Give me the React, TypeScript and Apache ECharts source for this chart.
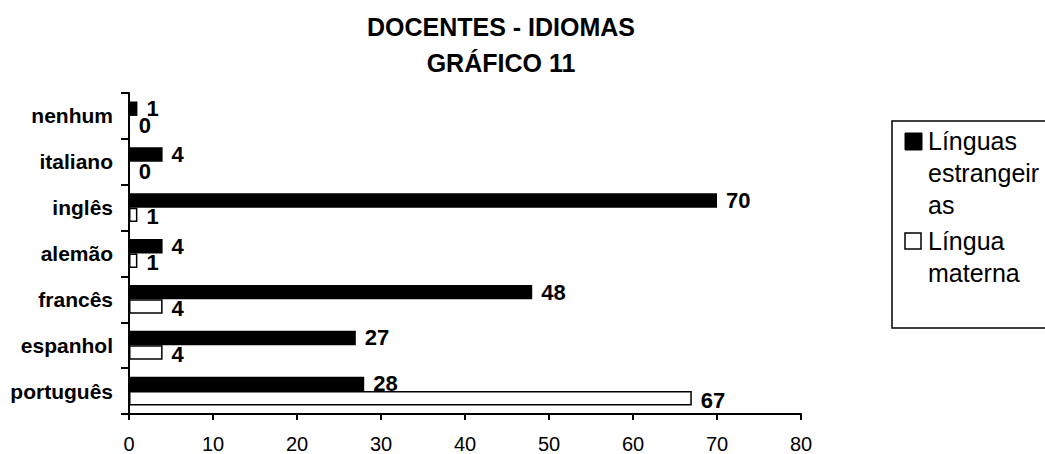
import React, { useEffect, useRef } from "react";
import * as echarts from "echarts";

const categories = ["português", "espanhol", "francês", "alemão", "inglês", "italiano", "nenhum"];
const seriesNames = ["Línguas estrangeiras", "Língua materna"];
const legendLines = [["Línguas", "estrangeir", "as"], ["Língua", "materna"]];
const estrangeiras = [28, 27, 48, 4, 70, 4, 1];
const materna = [67, 4, 4, 1, 1, 0, 0];
const titleLines = ["DOCENTES - IDIOMAS", "GRÁFICO 11"];

const FONT = "Arial, 'Liberation Sans', sans-serif";

export default function App() {
  const ref = useRef<HTMLDivElement>(null);
  useEffect(() => {
    if (!ref.current) return;
    const chart = echarts.init(ref.current, null, { renderer: "svg" });
    const labelStyle = {
      show: true,
      position: "right" as const,
      distance: 9,
      color: "#000",
      fontFamily: FONT,
      fontWeight: "bold" as const,
      fontSize: 22,
    };
    chart.setOption({
      animation: false,
      backgroundColor: "#fff",
      title: {
        text: titleLines.join("\n"),
        left: 501,
        top: 9,
        padding: 0,
        textAlign: "center",
        textStyle: { fontFamily: FONT, fontWeight: "bold", fontSize: 25, lineHeight: 36, color: "#000" },
      },
      grid: { left: 129, right: 244, top: 93, bottom: 39, containLabel: false },
      xAxis: {
        type: "value",
        min: 0,
        max: 80,
        interval: 10,
        axisLine: { show: true, lineStyle: { color: "#000", width: 2 } },
        axisTick: { show: true, length: 6, lineStyle: { color: "#000", width: 2 } },
        splitLine: { show: false },
        axisLabel: { color: "#000", fontFamily: FONT, fontSize: 20, margin: 20 },
      },
      yAxis: {
        type: "category",
        data: categories,
        axisLine: { show: true, lineStyle: { color: "#000", width: 2 } },
        axisTick: { show: true, length: 8, lineStyle: { color: "#000", width: 2 } },
        axisLabel: { color: "#000", fontFamily: FONT, fontWeight: "bold", fontSize: 21, margin: 16 },
      },
      series: [
        {
          name: seriesNames[0],
          type: "bar",
          data: estrangeiras,
          barGap: "0%",
          barCategoryGap: "37%",
          itemStyle: { color: "#000" },
          label: labelStyle,
        },
        {
          name: seriesNames[1],
          type: "bar",
          data: materna,
          barGap: "0%",
          barCategoryGap: "37%",
          itemStyle: { color: "#fff", borderColor: "#000", borderWidth: 1.5 },
          label: { ...labelStyle, offset: [0, 2] },
        },
      ],
      graphic: [
        {
          type: "rect",
          shape: { x: 892, y: 121, width: 200, height: 207 },
          style: { fill: "#fff", stroke: "#000", lineWidth: 1.5 },
          z: 10,
        },
        {
          type: "rect",
          shape: { x: 905, y: 133, width: 17, height: 17 },
          style: { fill: "#000", stroke: "#000", lineWidth: 1 },
          z: 11,
        },
        {
          type: "text",
          x: 928,
          y: 125,
          style: {
            text: legendLines[0].join("\n"),
            font: `25px ${FONT}`,
            fill: "#000",
            lineHeight: 32,
            verticalAlign: "top",
          },
          z: 11,
        },
        {
          type: "rect",
          shape: { x: 905, y: 233, width: 16, height: 16 },
          style: { fill: "#fff", stroke: "#000", lineWidth: 1.5 },
          z: 11,
        },
        {
          type: "text",
          x: 928,
          y: 225,
          style: {
            text: legendLines[1].join("\n"),
            font: `25px ${FONT}`,
            fill: "#000",
            lineHeight: 32,
            verticalAlign: "top",
          },
          z: 11,
        },
      ],
    });
    return () => chart.dispose();
  }, []);
  return (
    <div
      ref={ref}
      style={{ position: "fixed", left: 0, top: 0, width: 1045, height: 454, overflow: "hidden" }}
    />
  );
}
